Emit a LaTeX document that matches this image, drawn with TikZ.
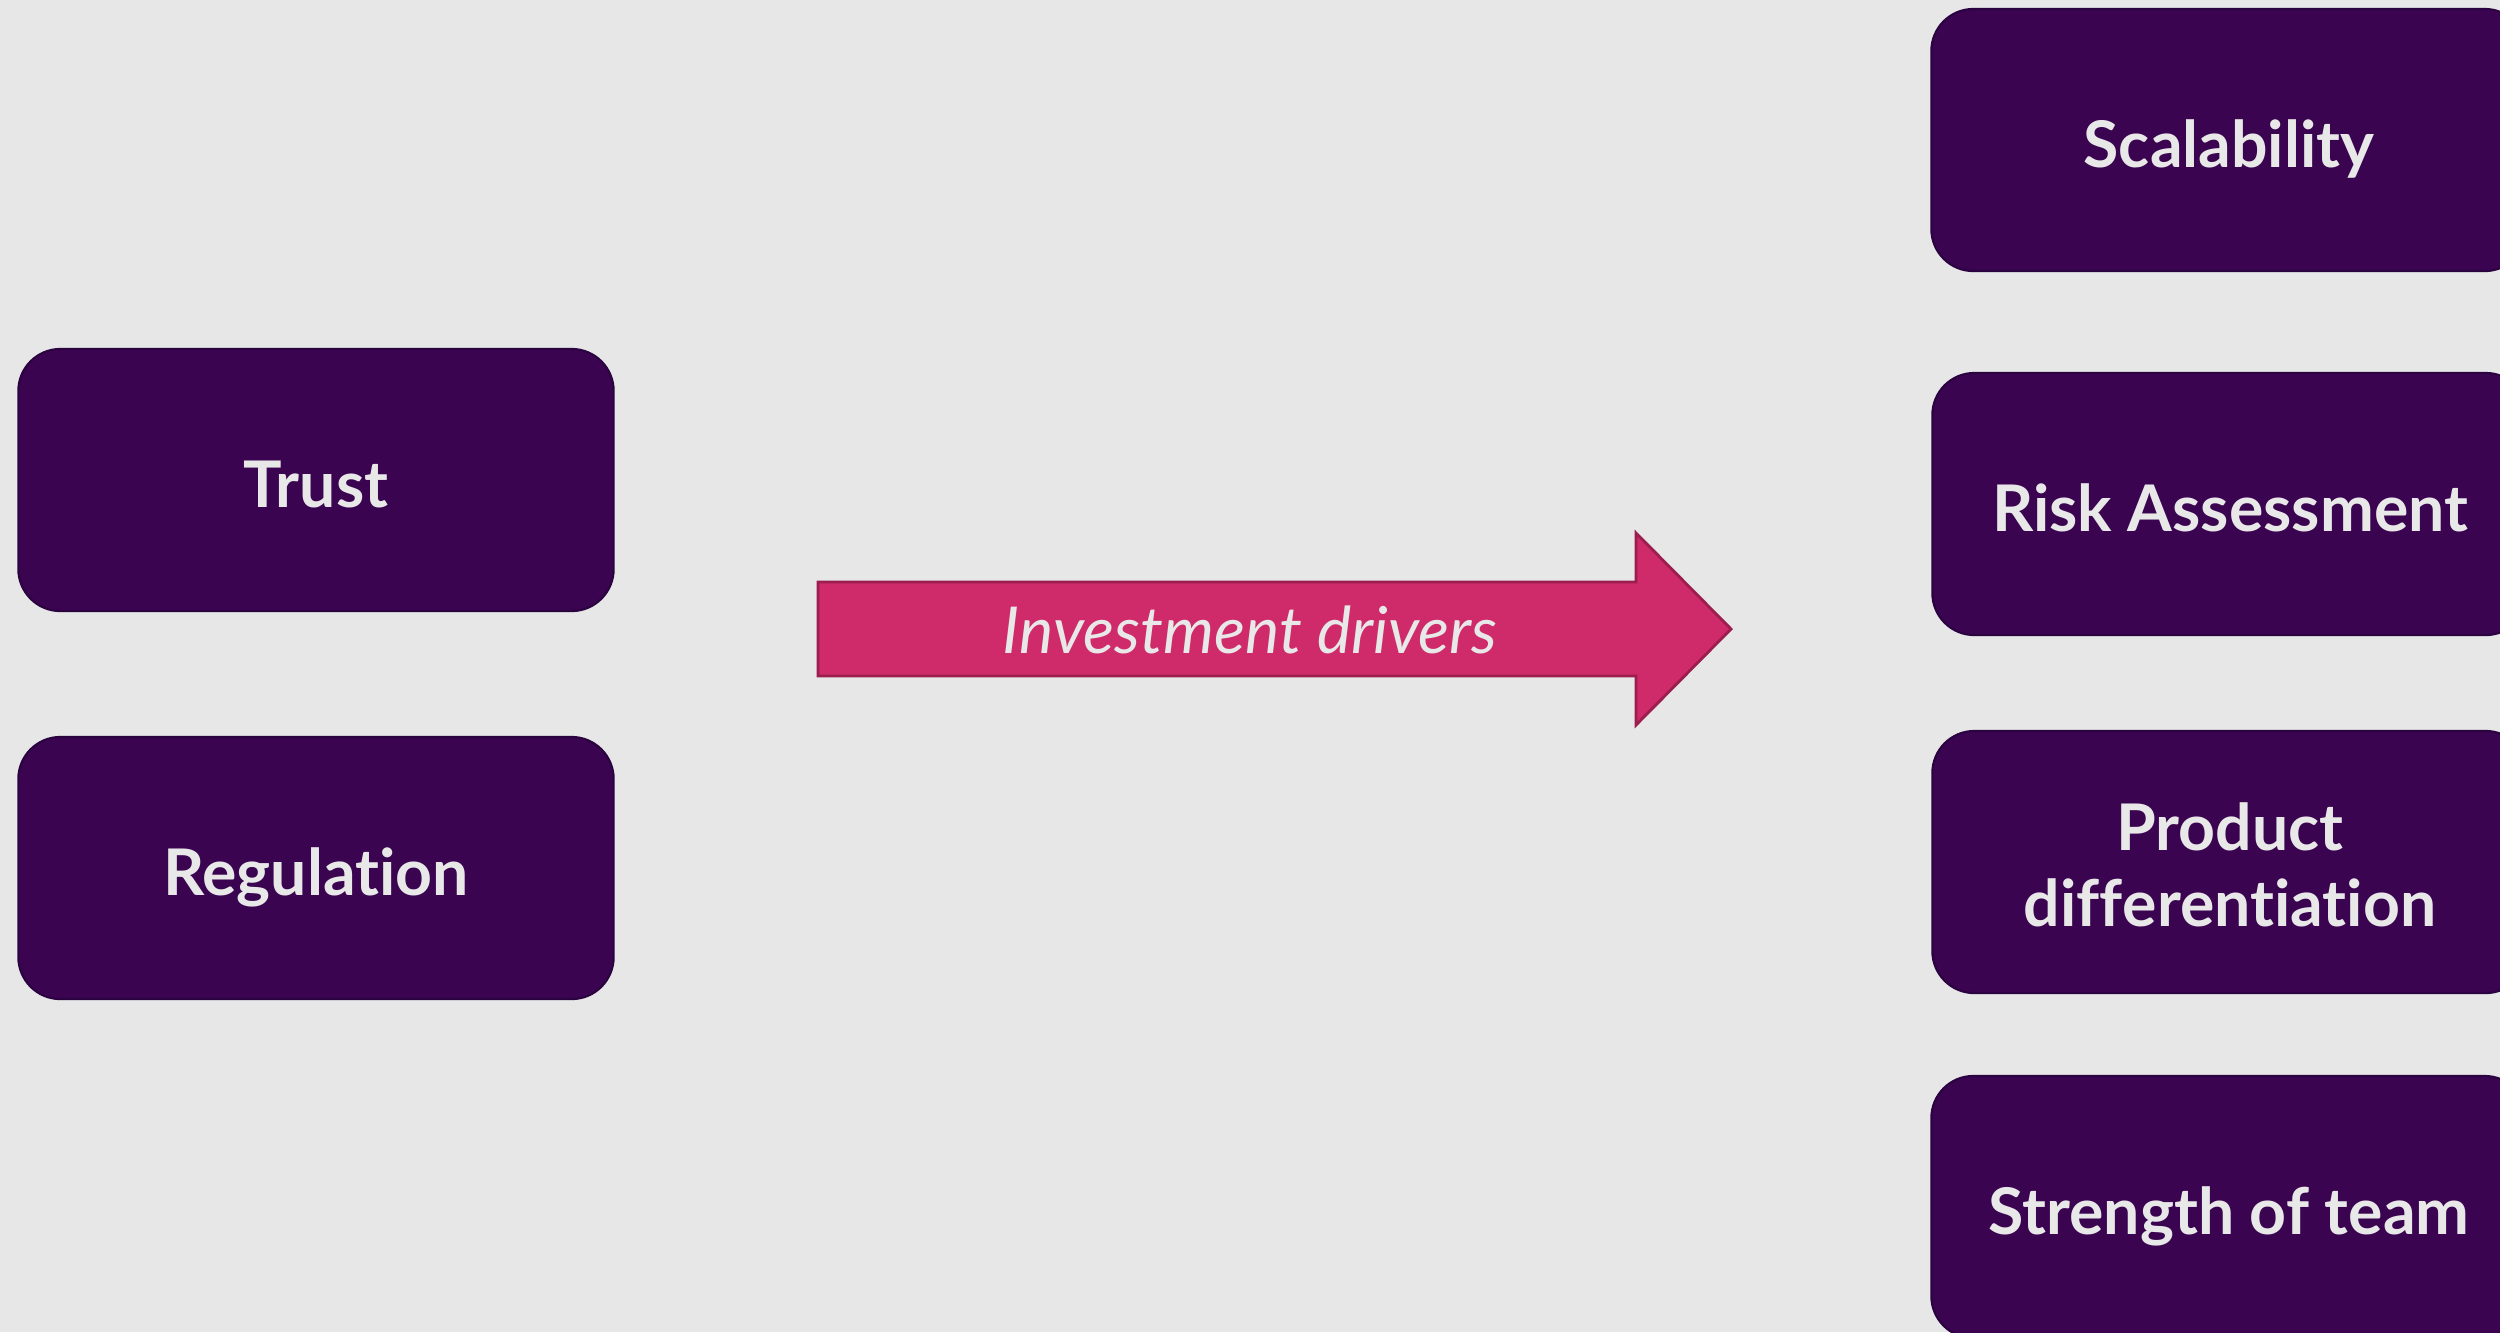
\documentclass[tikz,border=0pt]{standalone}
\usepackage{fontspec}
\setmainfont{Lato}[RawFeature={-liga;-clig;-dlig;-calt}]
\definecolor{bg}{HTML}{E7E7E7}
\definecolor{boxfill}{HTML}{3A0450}
\definecolor{boxline}{HTML}{2B0340}
\definecolor{arrowfill}{HTML}{CF2A6A}
\definecolor{arrowline}{HTML}{9C1E4F}
\definecolor{txt}{HTML}{E8E8E8}
\begin{document}
\begin{tikzpicture}[x=0.01cm,y=-0.01cm,
  factor/.style={draw=boxline, line width=0.6pt, fill=boxfill, rounded corners=0.42cm,
    minimum width=5.95cm, minimum height=2.62cm, inner sep=0pt, align=center,
    text height=19.9pt, text depth=4.5pt,
    text=txt, font=\fontsize{18.3}{21.6}\selectfont\bfseries},
  twoline/.style={text height=40.9pt, text depth=4.5pt}]
\useasboundingbox (0,0) rectangle (2500,1332);
\fill[bg] (0,0) rectangle (2500,1332);
\begin{scope}
\clip (0,0) rectangle (2500,1332);
\node[factor] (trust) at (316,480) {Trust};
\node[factor] (reg) at (316,868) {Regulat\kern0pt ion};
\node[factor] (scal) at (2229,140) {Scalability};
\node[factor] (risk) at (2230,504) {Risk Assessment};
\node[factor, twoline] (prod) at (2230,862) {Product\\dif\kern0pt f\kern0pt erent\kern0pt iat\kern0pt ion};
\node[factor] (team) at (2229,1207) {Strength of team};
\end{scope}
\draw[fill=arrowfill, draw=arrowline, line width=0.8pt]
  (818,582) -- (1636,582) -- (1636,533) -- (1731,629) -- (1636,725) -- (1636,676) -- (818,676) -- cycle;
\node[text=txt, font=\fontsize{18.4}{22}\selectfont\itshape] (drv) at (1250,630) {Investment drivers};
\end{tikzpicture}
\end{document}
